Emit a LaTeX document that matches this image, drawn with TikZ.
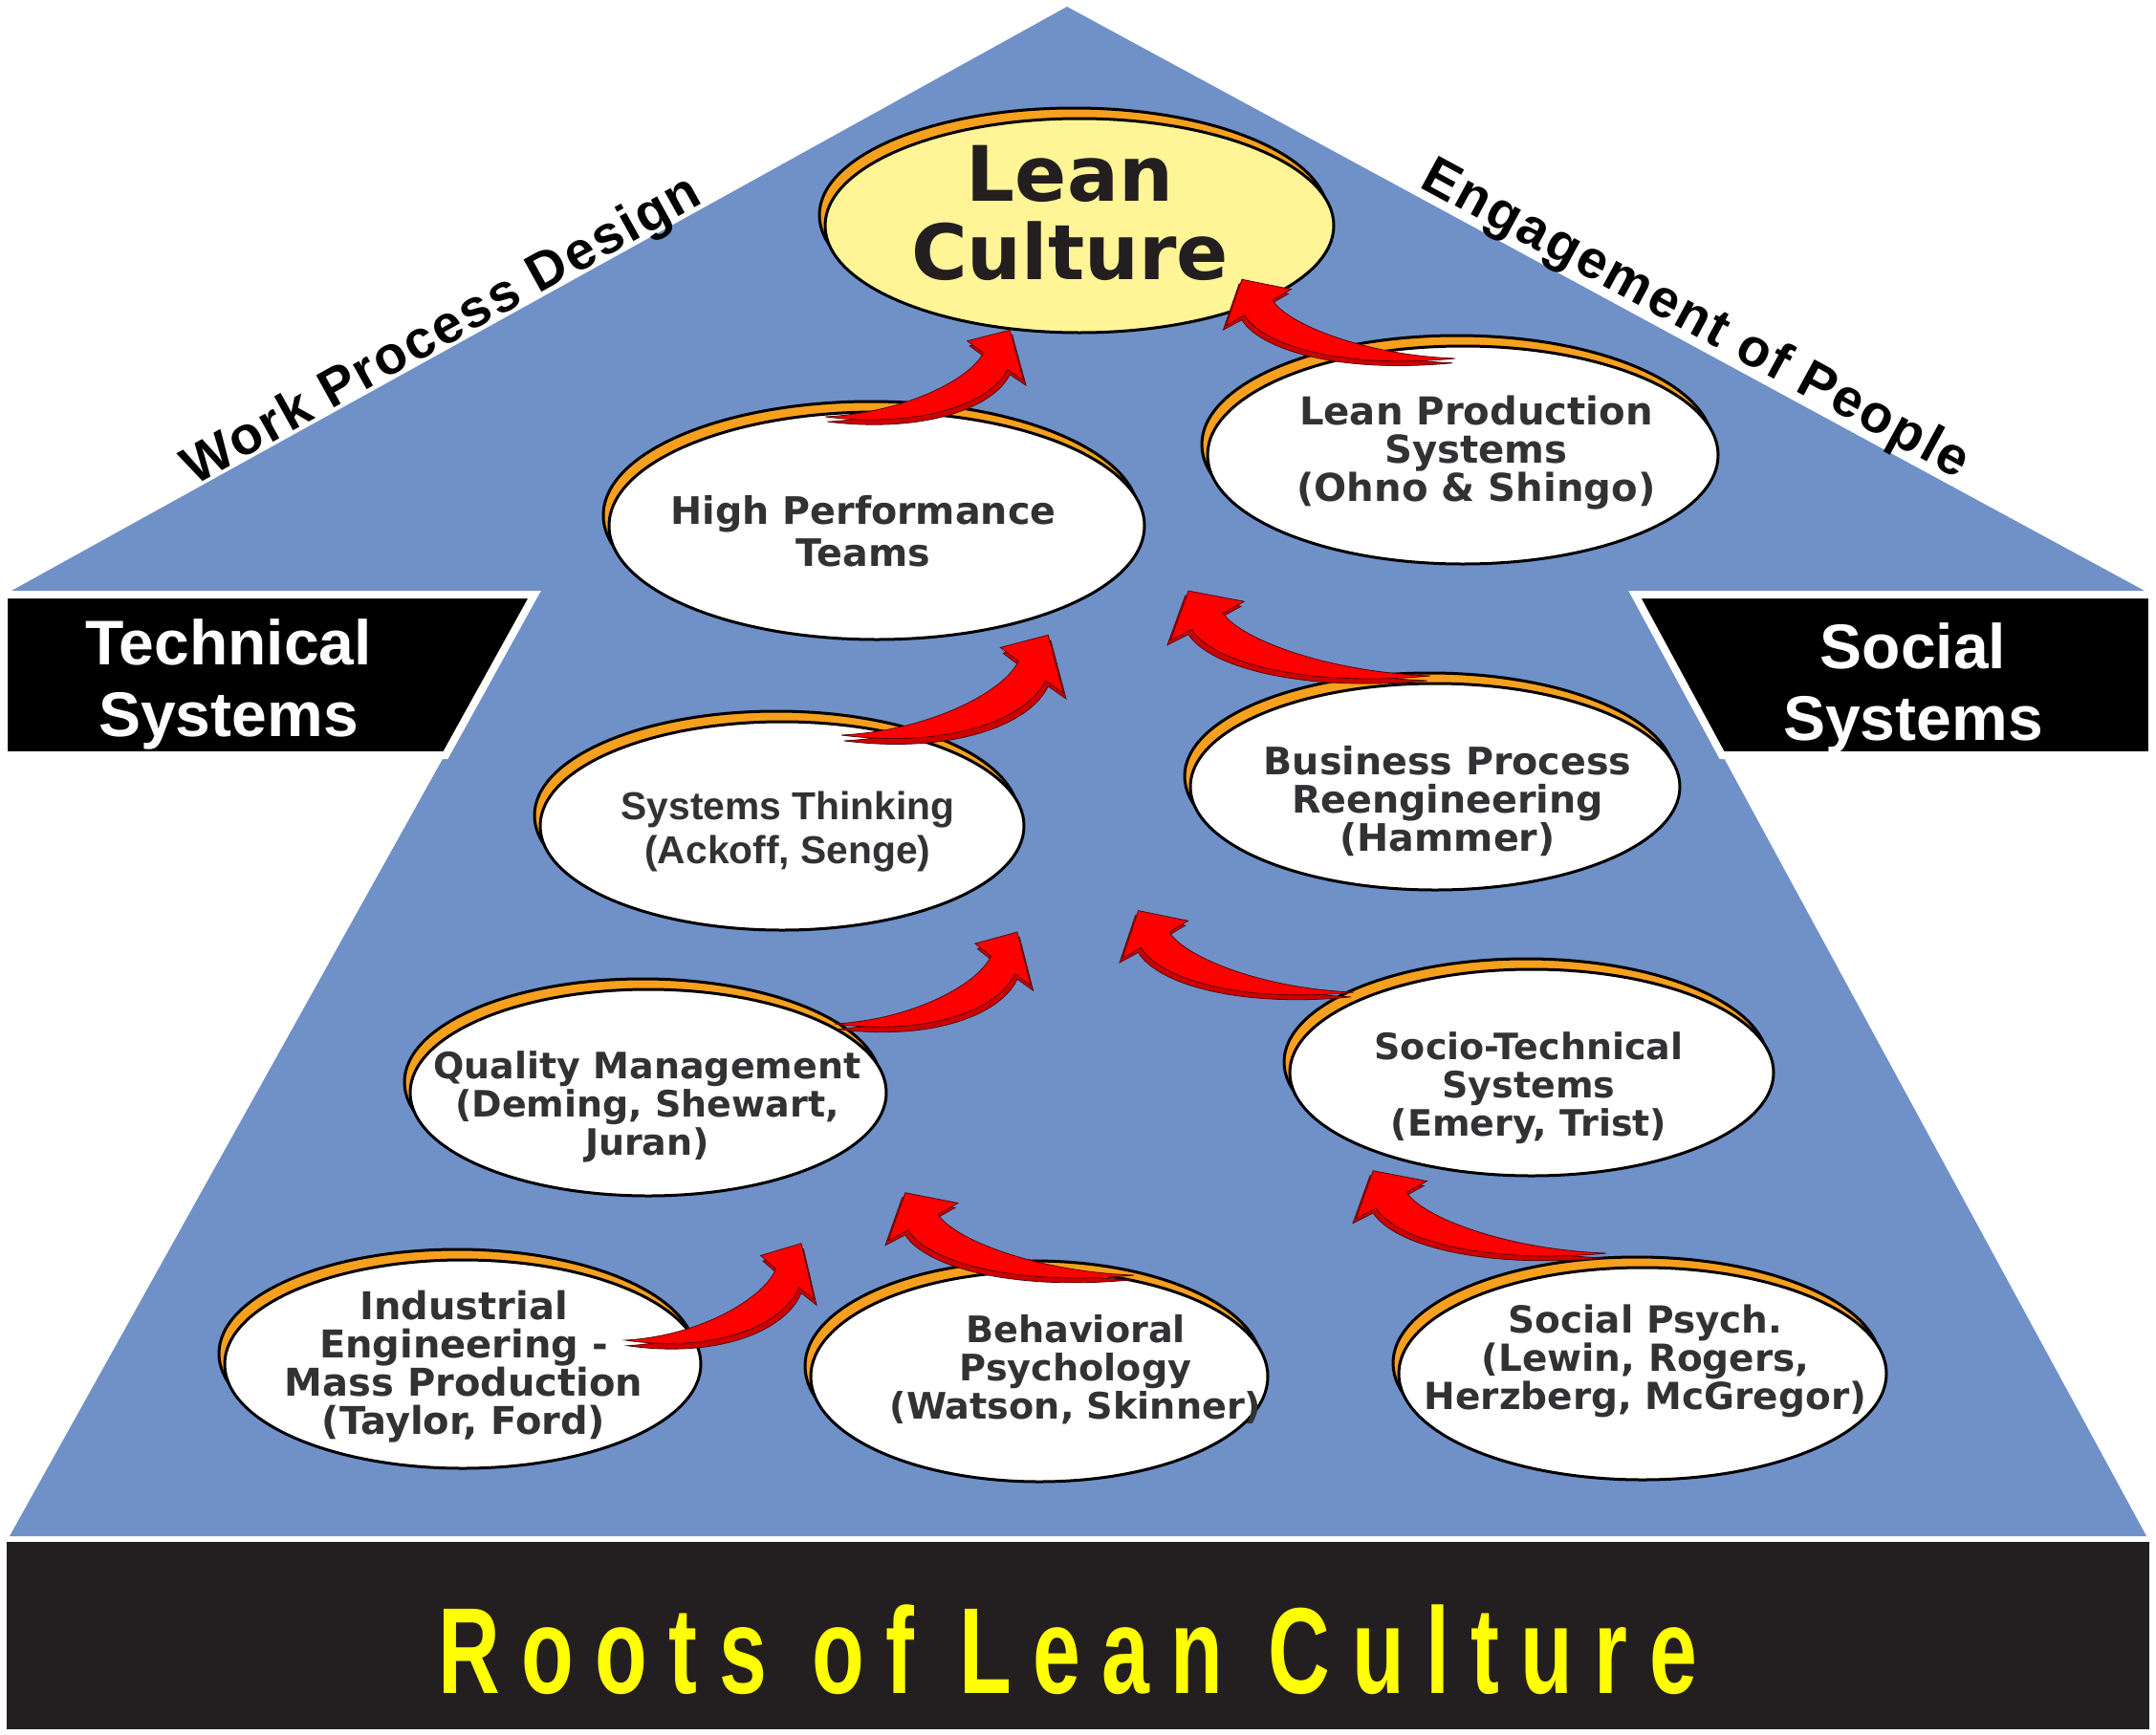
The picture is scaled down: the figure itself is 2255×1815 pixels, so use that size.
\documentclass[tikz,border=0pt]{standalone}
\usepackage{fontspec}
\usepackage{graphicx}
\setmainfont{Liberation Sans}
\newfontfamily\ovalfont{DejaVu Sans}
\newfontfamily\arialfont{Liberation Sans}
\newfontfamily\rooffont{Liberation Sans}[LetterSpace=4]
\newfontfamily\boxfont{Liberation Sans}
\newfontfamily\rootsfont{Liberation Sans}[LetterSpace=25]
\usetikzlibrary{shapes.geometric}
\definecolor{roofblue}{RGB}{112,144,200}
\definecolor{ovalorange}{RGB}{247,160,30}
\definecolor{leanyellow}{RGB}{255,245,150}
\definecolor{textgray}{RGB}{50,50,52}
\definecolor{nearblack}{RGB}{35,31,32}
\definecolor{arrowred}{RGB}{255,0,0}
\definecolor{arrowdark}{RGB}{205,0,0}
\definecolor{arrowline}{RGB}{90,0,0}
\definecolor{rootyellow}{RGB}{255,255,0}
\newcommand\leanoval[6]{%
  \path[fill=ovalorange, draw=black, line width=1.5pt] (#2-6,#3-11) ellipse [x radius={0.5pt*#4}, y radius={0.5pt*#5}];
  \node[ellipse, draw=black, line width=1.5pt, fill=#6, inner sep=0pt, minimum width=#4pt, minimum height=#5pt] (#1) at (#2,#3) {};
}
\tikzset{
  ovaltext/.style={align=center, inner sep=0pt, text=textgray, font=\ovalfont\bfseries\fontsize{#1}{20}\selectfont},
  arialtext/.style={align=center, inner sep=0pt, text=textgray, font=\arialfont\bfseries\fontsize{#1}{23}\selectfont},
  leantext/.style={align=center, inner sep=0pt, text=nearblack, font=\ovalfont\bfseries\fontsize{40}{41}\selectfont},
  rooftext/.style={inner sep=0pt, text=black, font=\rooffont\bfseries\fontsize{28}{30}\selectfont},
  boxtext/.style={align=center, inner sep=0pt, text=white, font=\boxfont\bfseries\fontsize{33}{37.5}\selectfont},
  rootstext/.style={inner sep=0pt, text=rootyellow, font=\rootsfont\bfseries\fontsize{64}{66}\selectfont},
  sidebox/.style={fill=black, draw=white, line width=4pt, line join=miter},
  pics/leanarrow/.style={code={
    \path[fill=arrowdark, draw=arrowline, line width=0.4pt] (3,5) .. controls (103,1) and (185,-34) .. (200,-60) -- (180,-72) -- (233,-83) -- (250,-32) -- (230,-43) .. controls (210,-9) and (123,17) .. (3,5) -- cycle;
    \path[fill=arrowred, draw=arrowline, line width=0.4pt] (0,0) .. controls (100,-4) and (182,-39) .. (197,-65) -- (177,-77) -- (230,-88) -- (247,-37) -- (227,-48) .. controls (207,-14) and (120,12) .. (0,0) -- cycle;
  }}
}
\begin{document}
\begin{tikzpicture}[x=0.5pt,y=-0.5pt]
\useasboundingbox (0,0) rectangle (2255,1815);
\fill[white] (0,0) rectangle (2255,1815);
% roof and body
\fill[roofblue] (12,618) -- (1116,7) -- (2243,618) -- cycle;
\fill[roofblue] (561,618) -- (1708,618) -- (2245,1607) -- (10,1607) -- cycle;
% side boxes
\path[sidebox] (4,622) -- (559,622) -- (466,790) -- (4,790) -- cycle;
\path[sidebox] (1710,622) -- (2251,622) -- (2251,790) -- (1801,790) -- cycle;
\node[boxtext] (tech) at (239,716) {Technical\\Systems};
\node[boxtext] (social) at (2001,720) {Social\\Systems};
% bottom banner
\fill[nearblack] (7,1613) rectangle (2248,1809);
\node[rootstext, anchor=base west] (roots) at (458,1771) {\scalebox{0.70}[1]{Roots of Lean Culture}};
% roof labels
\node[rooftext, anchor=base, rotate=29.04] (wpd) at (470,360) {Work Process Design};
\node[rooftext, anchor=base, rotate=-28.47] (eop) at (1766,348) {Engagement of People};
% ovals
\leanoval{lean}{1129}{236}{266}{112}{leanyellow}
\leanoval{hpt}{917}{550}{280}{119}{white}
\leanoval{lps}{1530}{476}{267}{114}{white}
\leanoval{st}{818}{864}{253}{109}{white}
\leanoval{bpr}{1501}{823}{256}{108}{white}
\leanoval{qm}{678}{1143}{249}{108}{white}
\leanoval{sts}{1602}{1122}{253}{108}{white}
\leanoval{ie}{484}{1427}{249}{109}{white}
\leanoval{bp}{1087}{1440}{239}{110}{white}
\leanoval{sp}{1718}{1437}{255}{111}{white}
% oval texts
\node[leantext] (lean-t) at (1119,223) {Lean\\Culture};
\node[ovaltext=19.8, font=\ovalfont\bfseries\fontsize{19.8}{22}\selectfont] (hpt-t) at (903,556) {High Performance\\Teams};
\node[ovaltext=20.1] (lps-t) at (1544,474) {Lean Production\\Systems\\(Ohno \& Shingo)};
\node[arialtext=20.4] (st-t) at (824,870) {Systems Thinking\\(Ackoff, Senge)};
\node[ovaltext=19.8] (bpr-t) at (1514,838) {Business Process\\Reengineering\\(Hammer)};
\node[ovaltext=19] (qm-t) at (677,1158) {Quality Management\\(Deming, Shewart,\\Juran)};
\node[ovaltext=19] (sts-t) at (1599,1138) {Socio-Technical\\Systems\\(Emery, Trist)};
\node[ovaltext=20] (ie-t) at (485,1430) {Industrial\\Engineering -\\Mass Production\\(Taylor, Ford)};
\node[ovaltext=19.1] (bp-t) at (1125,1433) {Behavioral\\Psychology\\(Watson, Skinner)};
\node[ovaltext=19.5] (sp-t) at (1721,1424) {Social Psych.\\(Lewin, Rogers,\\Herzberg, McGregor)};
% arrows
\coordinate (a1) at (654,1402);
\coordinate (a2) at (1186,1334);
\coordinate (a3) at (873,1071);
\coordinate (a4) at (880,769);
\coordinate (a5) at (863,436);
\coordinate (a6) at (1680,1311);
\coordinate (a7) at (1416,1038);
\coordinate (a8) at (1496,707);
\coordinate (a9) at (1522,375);
\pic (arr1) [xscale=0.80, yscale=1.15] at (a1) {leanarrow};
\pic (arr2) [xscale=-1.04, yscale=0.98] at (a2) {leanarrow};
\pic (arr3) [xscale=0.83, yscale=1.09] at (a3) {leanarrow};
\pic (arr4) [xscale=0.94, yscale=1.19] at (a4) {leanarrow};
\pic (arr5) [xscale=0.84, yscale=1.03] at (a5) {leanarrow};
\pic (arr6) [xscale=-1.06, yscale=0.98] at (a6) {leanarrow};
\pic (arr7) [xscale=-0.98, yscale=0.97] at (a7) {leanarrow};
\pic (arr8) [xscale=-1.10, yscale=1.01] at (a8) {leanarrow};
\pic (arr9) [xscale=-0.97, yscale=0.94] at (a9) {leanarrow};
\end{tikzpicture}
\end{document}
